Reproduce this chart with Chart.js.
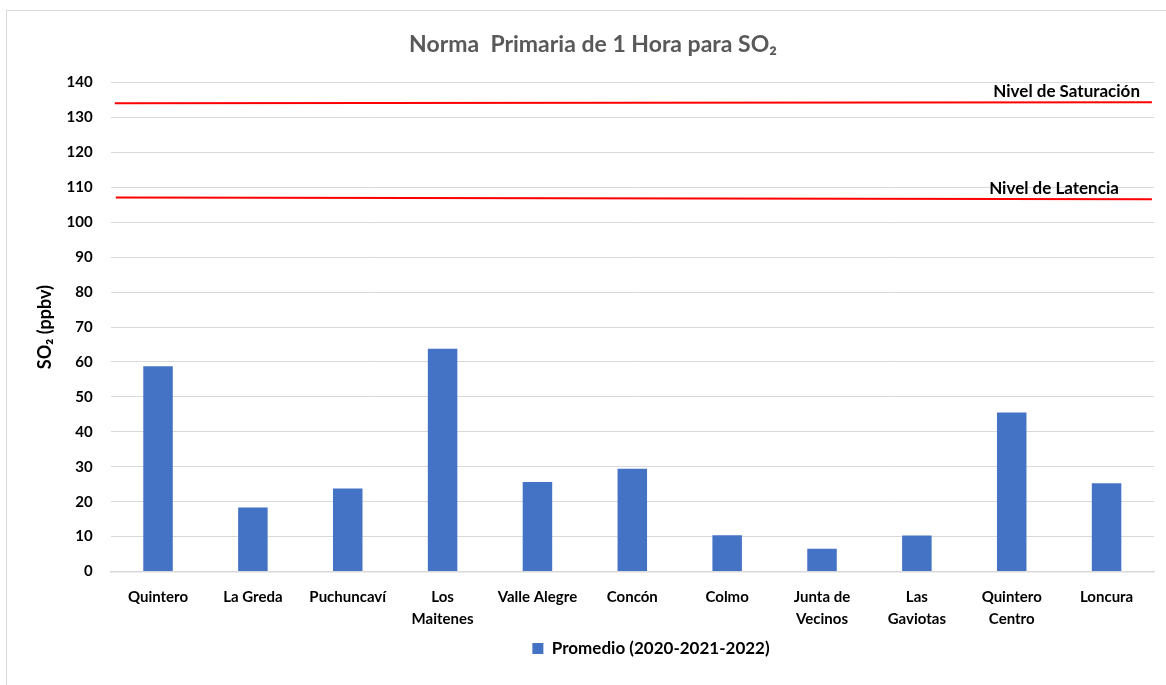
<!DOCTYPE html>
<html>
<head>
<meta charset="utf-8">
<script src="https://cdn.jsdelivr.net/npm/chart.js@4.4.1/dist/chart.umd.min.js"></script>
<style>
  html, body { margin: 0; padding: 0; background: #fff; }
  #wrap { position: relative; width: 1166px; height: 685px; overflow: hidden; }
  #frame { position: absolute; left: 6px; top: 10px; width: 1200px; height: 700px;
           border-left: 1.5px solid #d9d9d9; border-top: 1.5px solid #d9d9d9; box-sizing: border-box; }
  canvas { position: absolute; left: 0; top: 0; }
</style>
</head>
<body>
<div id="wrap">
  <div id="frame"></div>
  <canvas id="c" width="1166" height="685"></canvas>
</div>
<script>
const titleText = 'Norma  Primaria de 1 Hora para SO₂';
const yTitle = 'SO₂ (ppbv)';
const categories = [
  'Quintero', 'La Greda', 'Puchuncaví', ['Los', 'Maitenes'], 'Valle Alegre', 'Concón',
  'Colmo', ['Junta de', 'Vecinos'], ['Las', 'Gaviotas'], ['Quintero', 'Centro'], 'Loncura'
];
const seriesName = 'Promedio (2020-2021-2022)';
const promedio = [58.8, 18.3, 23.8, 63.8, 25.6, 29.4, 10.4, 6.5, 10.3, 45.5, 25.3];
const yTicks = { min: 0, max: 140, step: 10 };

const lineNames = ['Nivel de Saturación', 'Nivel de Latencia'];
const lineStart = [134.1, 107.1];
const lineEnd = [134.4, 106.6];
const lineXStart = [0.004, 0.005];
const lineXEnd = [0.998, 0.998];
const lineLabelX = [0.846, 0.842];

const FONT = 'Lato';
const LEGEND_SHIFT = 74;
const TITLE_SHIFT = 16;

const lineLabelPlugin = {
  id: 'lineLabels',
  afterLayout(chart) {
    const lg = chart.legend;
    if (lg) { lg.left += LEGEND_SHIFT; lg.right += LEGEND_SHIFT; }
    const tb = chart.titleBlock;
    if (tb) { tb.left += TITLE_SHIFT; tb.right += TITLE_SHIFT; }
  },
  afterDatasetsDraw(chart) {
    const ctx = chart.ctx;
    const xs = chart.scales.xLine, ys = chart.scales.y;
    ctx.save();
    ctx.font = 'bold 17px ' + FONT;
    ctx.fillStyle = '#000';
    ctx.textAlign = 'left';
    ctx.textBaseline = 'alphabetic';
    lineNames.forEach((name, i) => {
      const x = xs.getPixelForValue(lineLabelX[i]);
      const v = lineStart[i] + (lineEnd[i] - lineStart[i]) * (lineLabelX[i] - lineXStart[i]) / (lineXEnd[i] - lineXStart[i]);
      const y = ys.getPixelForValue(v) - 5;
      ctx.fillText(name, x, y);
    });
    ctx.restore();
  }
};

const datasets = [{
  type: 'bar',
  label: seriesName,
  data: promedio,
  backgroundColor: '#4472C4',
  borderWidth: 0,
  grouped: false,
  categoryPercentage: 1.0,
  barPercentage: 0.311,
  xAxisID: 'x',
  order: 2
}];
lineNames.forEach((name, i) => {
  datasets.push({
    type: 'line',
    label: name,
    data: [{ x: lineXStart[i], y: lineStart[i] }, { x: lineXEnd[i], y: lineEnd[i] }],
    borderColor: '#FF0000',
    borderWidth: 2,
    pointRadius: 0,
    fill: false,
    xAxisID: 'xLine',
    order: 1
  });
});

new Chart(document.getElementById('c'), {
  data: { labels: categories, datasets },
  options: {
    responsive: false,
    animation: false,
    layout: { padding: { left: 0, right: 12, top: 0, bottom: 18 } },
    plugins: {
      title: {
        display: true,
        text: titleText,
        color: '#595959',
        font: { family: FONT, size: 23, weight: 'bold' },
        padding: { top: 31, bottom: 24 }
      },
      legend: {
        position: 'bottom',
        labels: {
          filter: item => item.text === seriesName,
          boxWidth: 11,
          boxHeight: 11,
          color: '#000',
          font: { family: FONT, size: 17, weight: 'bold' },
          padding: 10
        }
      },
      tooltip: { enabled: false }
    },
    scales: {
      x: {
        type: 'category',
        offset: true,
        grid: { display: false, drawTicks: false },
        border: { display: true, color: '#d9d9d9', width: 1.5 },
        afterFit(scale) { scale.height -= 15; },
        ticks: {
          color: '#000',
          font: { family: FONT, size: 15, weight: 'bold', lineHeight: 1.45 },
          padding: 15,
          maxRotation: 0,
          autoSkip: false
        }
      },
      xLine: {
        type: 'linear',
        display: false,
        min: 0,
        max: 1
      },
      y: {
        min: yTicks.min,
        max: yTicks.max,
        afterFit(scale) { scale.width = 110.6; },
        ticks: {
          stepSize: yTicks.step,
          color: '#000',
          font: { family: FONT, size: 15, weight: 'bold' },
          padding: 18
        },
        grid: { color: '#d9d9d9', lineWidth: 1, drawTicks: false },
        border: { display: false },
        title: {
          display: true,
          text: yTitle,
          color: '#000',
          font: { family: FONT, size: 18, weight: 'bold' },
          padding: { top: 34, bottom: 0 }
        }
      }
    }
  },
  plugins: [lineLabelPlugin]
});
</script>
</body>
</html>
